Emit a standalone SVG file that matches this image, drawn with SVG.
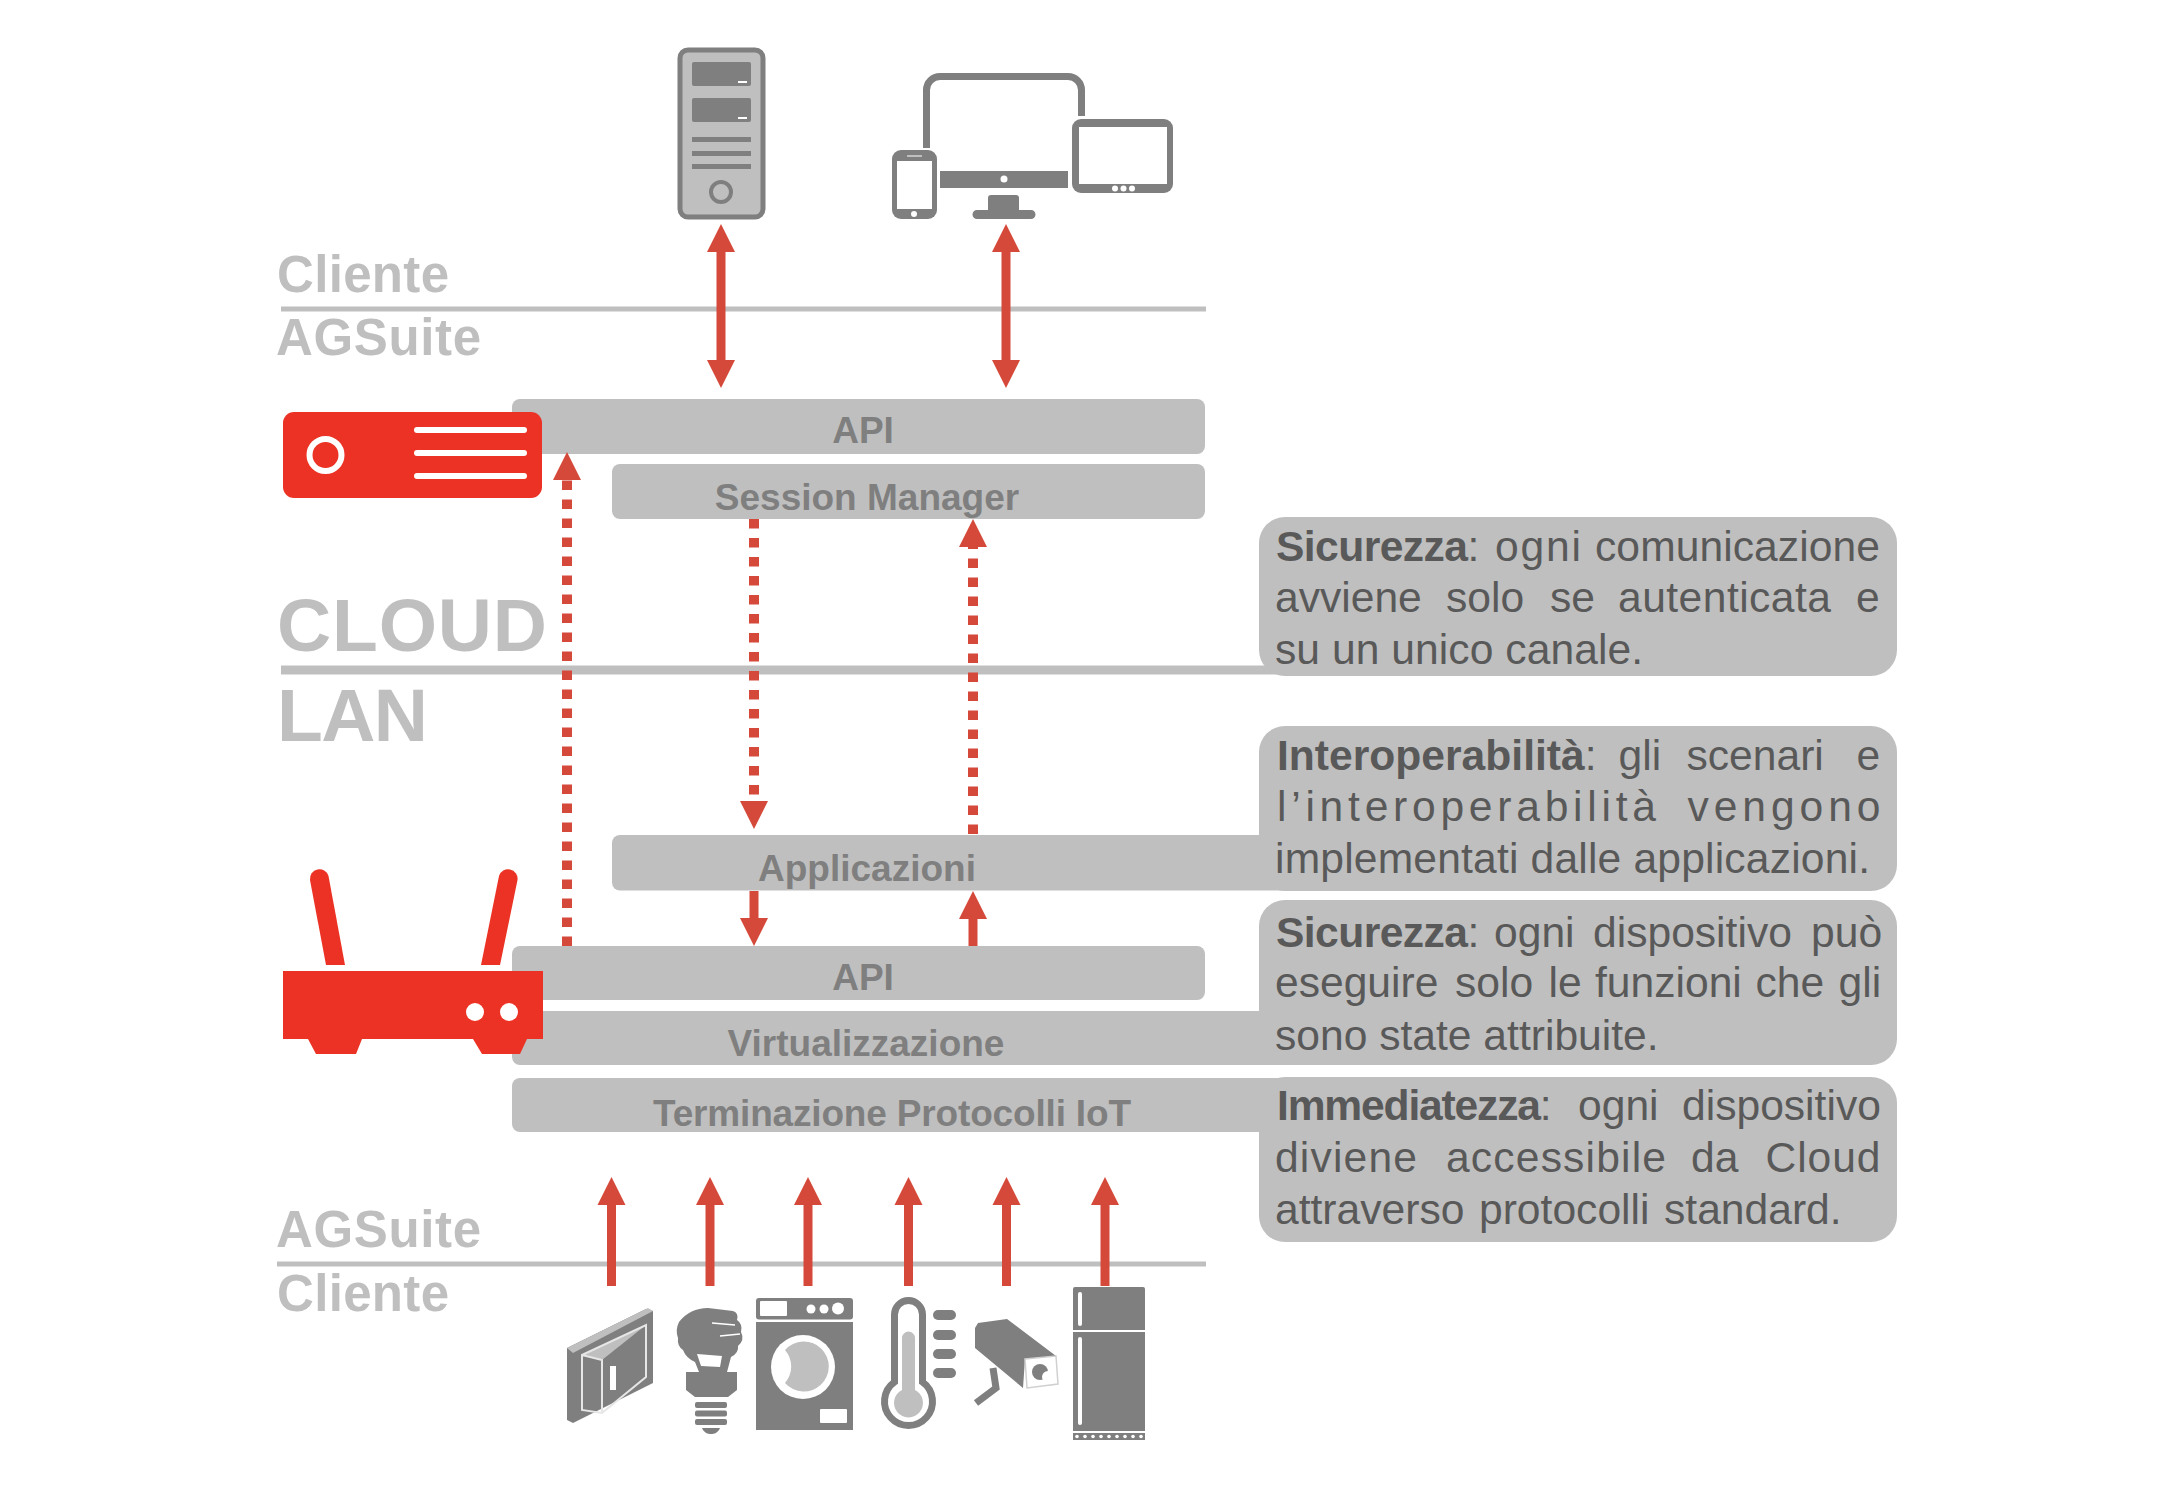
<svg xmlns="http://www.w3.org/2000/svg" width="2166" height="1502" viewBox="0 0 2166 1502">
<style>
text{font-family:"Liberation Sans",Arial,sans-serif}
.bar{fill:#bfbfbf}
.zone{fill:#bfbfbf;font-weight:700;font-size:51px}
.big{fill:#bfbfbf;font-weight:700;font-size:75px}
.lbl{fill:#7f7f7f;font-weight:700;font-size:37px;text-anchor:middle}
.note{fill:#595959;font-size:42.6px}
.note .b{font-weight:700}
.sep{stroke:#bfbfbf;stroke-width:5;fill:none}
.ic{fill:#7f7f7f}
.lt{fill:#bfbfbf}
.wh{fill:#fff}
.red{fill:#ec3224}
.arrow{stroke:#d5493a;stroke-width:9;fill:none}
.both{marker-start:url(#head);marker-end:url(#head)}
.one{marker-end:url(#head)}
.dash{stroke-width:10;stroke-dasharray:9.5 9.5}
</style>
<defs>
<marker id="head" markerUnits="userSpaceOnUse" markerWidth="29" markerHeight="30" refX="0" refY="14.5" orient="auto-start-reverse"><path d="M0 0.5L28 14.5L0 28.5Z" fill="#d5493a"/></marker>
</defs>
<rect width="2166" height="1502" fill="#fff"/>

<g id="zones">
<text class="zone" x="277" y="292" textLength="172">Cliente</text>
<text class="zone" x="276" y="355" textLength="205">AGSuite</text>
<path class="sep" d="M281 309H1206"/>
<text class="big" x="277" y="651" textLength="270">CLOUD</text>
<text class="big" x="277" y="741" textLength="151">LAN</text>
<path class="sep" style="stroke-width:9" d="M281 670H1290"/>
<text class="zone" x="276" y="1247" textLength="205">AGSuite</text>
<path class="sep" d="M277 1264H1206"/>
<text class="zone" x="277" y="1311" textLength="172">Cliente</text>
</g>

<g id="node-api-cloud"><rect class="bar" x="512" y="399" width="693" height="55" rx="8"/><text class="lbl" x="863" y="443">API</text></g>
<g id="node-session"><rect class="bar" x="612" y="464" width="593" height="55" rx="8"/><text class="lbl" x="867" y="510">Session Manager</text></g>
<g id="node-applicazioni"><rect class="bar" x="612" y="835" width="700" height="55.500" rx="8"/><text class="lbl" x="867" y="881">Applicazioni</text></g>
<g id="node-api-lan"><rect class="bar" x="512" y="946" width="693" height="54" rx="8"/><text class="lbl" x="863" y="990">API</text></g>
<g id="node-virtualizzazione"><rect class="bar" x="512" y="1011" width="800" height="54" rx="8"/><text class="lbl" x="866" y="1055.500">Virtualizzazione</text></g>
<g id="node-terminazione"><rect class="bar" x="512" y="1078" width="800" height="54" rx="8"/><text class="lbl" x="892" y="1125.500" textLength="478">Terminazione Protocolli IoT</text></g>

<g id="node-cloud-server">
<rect class="red" x="283" y="412" width="259" height="86" rx="11"/>
<circle cx="325.500" cy="455" r="16" fill="none" stroke="#fff" stroke-width="6"/>
<rect class="wh" x="414" y="427" width="113" height="6" rx="3"/><rect class="wh" x="414" y="450" width="113" height="6" rx="3"/><rect class="wh" x="414" y="473" width="113" height="6" rx="3"/>
</g>

<g id="node-router">
<path class="red" d="M283 971H543V1039H527L520 1054H482L473 1039H362L356 1054H316L308 1039H283Z"/>
<path class="red" d="M310 880A9.500 9.500 0 0 1 328.500 876L345 965H326Z"/>
<path class="red" d="M517.500 880A9.500 9.500 0 0 0 499 876L481 965H500Z"/>
<circle class="wh" cx="475" cy="1012" r="9"/><circle class="wh" cx="509" cy="1012" r="9"/>
</g>

<g id="connectors">
<path class="arrow both" d="M721 252V360"/>
<path class="arrow both" d="M1006 252V360"/>
<path class="arrow dash one" d="M567 946V480"/>
<path class="arrow dash one" d="M754 519V801"/>
<path class="arrow dash one" d="M973 834V547"/>
<path class="arrow one" d="M754 891V918"/>
<path class="arrow one" d="M973 946V919"/>
<path class="arrow one" d="M611.500 1286V1205"/>
<path class="arrow one" d="M710 1286V1205"/>
<path class="arrow one" d="M808 1286V1205"/>
<path class="arrow one" d="M908.500 1286V1205"/>
<path class="arrow one" d="M1006.500 1286V1205"/>
<path class="arrow one" d="M1105 1286V1205"/>
</g>

<g id="node-note-1">
<rect class="bar" x="1259" y="517" width="638" height="159" rx="26"/>
<text class="note" y="561"><tspan class="b" x="1276" textLength="192">Sicurezza</tspan>: <tspan x="1495" textLength="86">ogni</tspan> <tspan x="1595" textLength="285">comunicazione</tspan></text>
<text class="note" y="612"><tspan x="1275">avviene</tspan> <tspan x="1446">solo</tspan> <tspan x="1550">se</tspan> <tspan x="1618" textLength="213">autenticata</tspan> <tspan x="1856">e</tspan></text>
<text class="note" x="1275" y="664" textLength="368">su un unico canale.</text>
</g>
<g id="node-note-2">
<rect class="bar" x="1259" y="726" width="638" height="165" rx="26"/>
<text class="note" y="770"><tspan class="b" x="1277">Interoperabilità</tspan>: <tspan x="1618.500">gli</tspan> <tspan x="1686.500">scenari</tspan> <tspan x="1856.500">e</tspan></text>
<text class="note" y="821"><tspan x="1277" textLength="379" lengthAdjust="spacing">l’interoperabilità</tspan> <tspan x="1687.500" textLength="193" lengthAdjust="spacing">vengono</tspan></text>
<text class="note" x="1275" y="873" textLength="595">implementati dalle applicazioni.</text>
</g>
<g id="node-note-3">
<rect class="bar" x="1259" y="900" width="638" height="165" rx="26"/>
<text class="note" y="946.500"><tspan class="b" x="1276" textLength="192">Sicurezza</tspan>: <tspan x="1494">ogni</tspan> <tspan x="1593">dispositivo</tspan> <tspan x="1811">può</tspan></text>
<text class="note" y="997"><tspan x="1275">eseguire</tspan> <tspan x="1455">solo</tspan> <tspan x="1548.500">le</tspan> <tspan x="1595">funzioni</tspan> <tspan x="1755.500">che</tspan> <tspan x="1838.500">gli</tspan></text>
<text class="note" x="1275" y="1049.500">sono state attribuite.</text>
</g>
<g id="node-note-4">
<rect class="bar" x="1259" y="1077" width="638" height="165" rx="26"/>
<text class="note" y="1120"><tspan class="b" x="1277" textLength="264">Immediatezza</tspan>: <tspan x="1578">ogni</tspan> <tspan x="1682">dispositivo</tspan></text>
<text class="note" y="1171.500"><tspan x="1275" textLength="142">diviene</tspan> <tspan x="1446" textLength="220">accessibile</tspan> <tspan x="1691">da</tspan> <tspan x="1765.500" textLength="115">Cloud</tspan></text>
<text class="note" y="1224"><tspan x="1275">attraverso</tspan> <tspan x="1479">protocolli</tspan> <tspan x="1664">standard.</tspan></text>
</g>

<g id="node-pc-tower">
<rect x="680" y="50" width="83" height="167" rx="8" fill="#bfbfbf" stroke="#7f7f7f" stroke-width="5"/>
<rect class="ic" x="692" y="62" width="59" height="24" rx="2"/><rect class="ic" x="692" y="98" width="59" height="24" rx="2"/>
<rect class="wh" x="738" y="81" width="9" height="2"/><rect class="wh" x="738" y="117" width="9" height="2"/>
<rect class="ic" x="692" y="137" width="59" height="5"/><rect class="ic" x="692" y="151" width="59" height="5"/><rect class="ic" x="692" y="164" width="59" height="5"/>
<circle cx="721" cy="192" r="10" fill="none" stroke="#7f7f7f" stroke-width="4"/>
</g>

<g id="node-devices">
<path d="M926.500 148V90A13.500 13.500 0 0 1 940 76.500H1068A13.500 13.500 0 0 1 1081.500 90V116" fill="none" stroke="#7f7f7f" stroke-width="7"/>
<rect class="ic" x="940" y="171" width="128" height="17"/><circle class="wh" cx="1004" cy="179" r="3.500"/>
<path class="ic" d="M988 198a3 3 0 0 1 3-3h25a3 3 0 0 1 3 3V210h12a4.500 4.500 0 0 1 0 9H977a4.500 4.500 0 0 1 0-9h11Z"/>
<rect class="ic" x="1072" y="119" width="101" height="74" rx="9"/><rect class="wh" x="1079" y="127" width="88" height="57"/>
<circle class="wh" cx="1115" cy="188.500" r="3"/><circle class="wh" cx="1123.500" cy="188.500" r="3"/><circle class="wh" cx="1132" cy="188.500" r="3"/>
<rect class="ic" x="892" y="150" width="45" height="69" rx="9"/><rect class="wh" x="897" y="161" width="35" height="48"/>
<rect class="lt" x="907" y="155" width="15" height="2"/><circle class="wh" cx="914" cy="214" r="3"/>
</g>

<g id="node-switch">
<path class="ic" d="M567 1348L646 1309L653 1311V1383L573 1423L567 1420Z"/>
<path class="lt" d="M567 1348L648 1308L653 1311L573 1353Z"/>
<path class="lt" d="M582 1355L646 1325L602 1360Z"/>
<path d="M582 1355L646 1325V1377L602 1413L582 1410ZM582 1355L602 1360V1413" fill="none" stroke="#e6e6e6" stroke-width="2"/>
<rect x="610" y="1366" width="6" height="24" fill="#fff"/>
</g>
<g id="node-bulb">
<path class="ic" d="M708 1308L733 1311Q739 1313 737 1320Q743 1324 741 1332Q745 1340 738 1346Q739 1353 731 1357L727 1372H737V1390L728 1397H695L686 1390V1372H699L695 1362Q686 1358 683 1350Q677 1346 678 1338Q675 1330 679 1322Q690 1308 708 1308Z"/>
<path class="wh" d="M697 1354L722 1356L720 1367L701 1366Z"/>
<path d="M712 1323L735 1325M720 1336L740 1334" stroke="#fff" stroke-width="1.500" fill="none"/>
<rect class="ic" x="695" y="1402" width="32" height="6" rx="2"/><rect class="ic" x="695" y="1410.500" width="32" height="6" rx="2"/><rect class="ic" x="695" y="1419" width="32" height="6" rx="2"/>
<path class="ic" d="M702 1428H720C718 1433 714 1434 711 1434C708 1434 704 1433 702 1428Z"/>
</g>
<g id="node-washer">
<rect class="ic" x="756" y="1298" width="97" height="21.500" rx="3"/>
<rect class="wh" x="760" y="1301" width="27" height="15" rx="1"/>
<circle class="wh" cx="811" cy="1309" r="4.500"/><circle class="wh" cx="824" cy="1309" r="4.500"/><circle class="wh" cx="838" cy="1308.500" r="6"/>
<rect class="ic" x="756" y="1322" width="97" height="108"/>
<circle class="wh" cx="803" cy="1367" r="32"/>
<path class="lt" d="M785 1350A25 25 0 1 1 785 1383A25 25 0 0 0 785 1350Z"/>
<rect class="wh" x="820" y="1409" width="27" height="14" rx="1"/>
</g>
<g id="node-thermometer">
<path d="M894.500 1382V1314.500A14 14 0 0 1 922.500 1314.500V1382A24 24 0 1 1 894.500 1382Z" fill="#fff" stroke="#7f7f7f" stroke-width="7"/>
<path class="lt" d="M902 1390V1338A6.500 6.500 0 0 1 915 1338V1390A14.500 14.500 0 1 1 902 1390Z"/>
<rect class="ic" x="933" y="1310" width="23" height="10" rx="5"/><rect class="ic" x="933" y="1330" width="23" height="10" rx="5"/><rect class="ic" x="933" y="1349" width="23" height="10" rx="5"/><rect class="ic" x="933" y="1368" width="23" height="10" rx="5"/>
</g>
<g id="node-camera">
<path class="ic" d="M978 1323L1007 1319L1056 1356L1025 1359L1023 1388L975 1348V1328Z"/>
<path d="M993 1368L996 1388L976 1403" fill="none" stroke="#7f7f7f" stroke-width="7"/>
<path d="M1025 1359L1056 1356L1058 1384L1027 1388Z" fill="#fff" stroke="#d0d0d0" stroke-width="1.500"/>
<circle class="ic" cx="1040" cy="1372" r="8"/><circle class="wh" cx="1048" cy="1377" r="6"/>
</g>
<g id="node-fridge">
<path class="ic" d="M1073 1289a2 2 0 0 1 2-2h68a2 2 0 0 1 2 2v41h-72Z"/>
<path class="ic" d="M1073 1332h72v99h-72Z"/>
<rect class="ic" x="1073" y="1433" width="72" height="7"/>
<rect class="wh" x="1078" y="1292" width="4" height="34" rx="2"/><rect class="wh" x="1078" y="1337" width="4" height="88" rx="2"/>
<g fill="#fff"><circle cx="1077" cy="1436.500" r="1.800"/><circle cx="1085" cy="1436.500" r="1.800"/><circle cx="1093" cy="1436.500" r="1.800"/><circle cx="1101" cy="1436.500" r="1.800"/><circle cx="1109" cy="1436.500" r="1.800"/><circle cx="1117" cy="1436.500" r="1.800"/><circle cx="1125" cy="1436.500" r="1.800"/><circle cx="1133" cy="1436.500" r="1.800"/><circle cx="1141" cy="1436.500" r="1.800"/></g>
</g>
</svg>
